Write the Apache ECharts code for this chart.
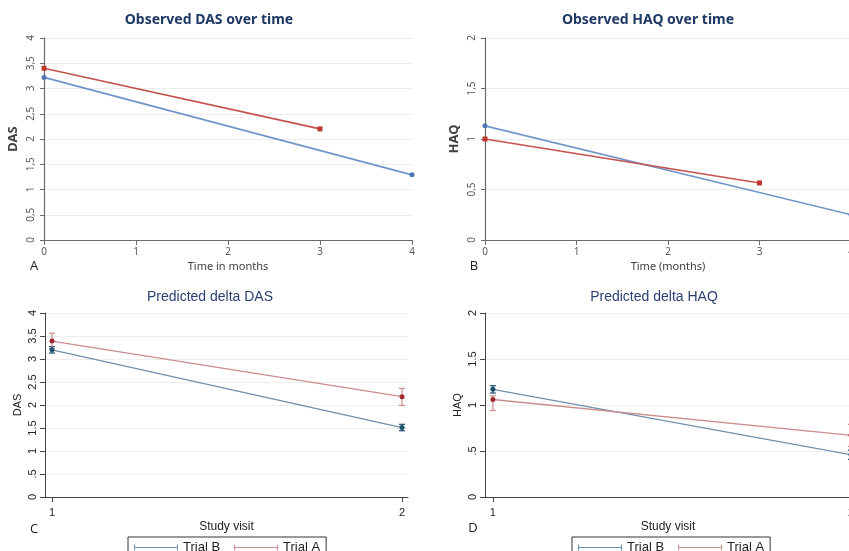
<!DOCTYPE html>
<html>
<head>
<meta charset="utf-8">
<script src="https://cdn.jsdelivr.net/npm/echarts@6/dist/echarts.min.js"></script>
<style>
  html, body { margin: 0; padding: 0; background: #fff; }
  #chart { width: 849px; height: 551px; }
</style>
</head>
<body>
<div id="chart"></div>
<script>
// A: observed DAS (months)
const dasMonthsB = [0, 4];
const dasObsB = [3.22, 1.29];
const dasMonthsA = [0, 3];
const dasObsA = [3.40, 2.20];

// B: observed HAQ (months)
const haqMonthsB = [0, 4];
const haqObsB = [1.13, 0.25];
const haqMonthsA = [0, 3];
const haqObsA = [1.00, 0.565];

// C: predicted delta DAS per study visit
const visits = [1, 2];
const dasPredB = [3.20, 1.51];
const dasLowB = [3.13, 1.44];
const dasHighB = [3.27, 1.58];
const dasPredA = [3.39, 2.18];
const dasLowA = [3.22, 1.99];
const dasHighA = [3.56, 2.36];

// D: predicted delta HAQ per study visit
const haqPredB = [1.17, 0.46];
const haqLowB = [1.13, 0.41];
const haqHighB = [1.21, 0.51];
const haqPredA = [1.06, 0.67];
const haqLowA = [0.94, 0.55];
const haqHighA = [1.10, 0.79];

const zip = (xs, ys) => xs.map((x, i) => [x, ys[i]]);
const zip3 = (xs, lo, hi) => xs.map((x, i) => [x, lo[i], hi[i]]);

const excelFont = 'Noto Sans';
const stataFont = 'Liberation Sans';
const blueXl = '#7195c8', redXl = '#c4524f';
const blueSt = '#6d90ad', redSt = '#c98d8e';
const blueStDark = '#1f4f6e', redStDark = '#9e2a30';

function errorBar(params, api) {
  const x = api.value(0);
  const lo = api.coord([x, api.value(1)]);
  const hi = api.coord([x, api.value(2)]);
  const w = 3;
  const style = { stroke: api.visual('color'), lineWidth: 1.2, fill: null };
  return {
    type: 'group',
    children: [
      { type: 'line', shape: { x1: lo[0], y1: lo[1], x2: hi[0], y2: hi[1] }, style: style },
      { type: 'line', shape: { x1: lo[0] - w, y1: lo[1], x2: lo[0] + w, y2: lo[1] }, style: style },
      { type: 'line', shape: { x1: hi[0] - w, y1: hi[1], x2: hi[0] + w, y2: hi[1] }, style: style }
    ]
  };
}

function xlYAxis(idx, max, name) {
  return {
    type: 'value', gridIndex: idx, min: 0, max: max, interval: 0.5,
    name: name, nameLocation: 'middle', nameGap: 24, nameRotate: 90,
    nameTextStyle: { fontFamily: excelFont, fontSize: 13, fontWeight: 'bold', color: '#404040' },
    axisLine: { show: true, lineStyle: { color: '#6b6b6b', width: 1.2 } },
    axisTick: { show: true, length: 4, lineStyle: { color: '#6b6b6b' } },
    axisLabel: {
      rotate: 90, margin: 8, fontFamily: excelFont, fontSize: 10, color: '#595959',
      formatter: v => String(v).replace('.', ',')
    },
    splitLine: { show: true, lineStyle: { color: '#ececec' } }
  };
}

function xlXAxis(idx, name) {
  return {
    type: 'value', gridIndex: idx, min: 0, max: 4, interval: 1,
    name: name, nameLocation: 'middle', nameGap: 21,
    nameTextStyle: { fontFamily: excelFont, fontSize: 11, color: '#404040' },
    axisLine: { lineStyle: { color: '#6b6b6b', width: 1.2 } },
    axisTick: { show: true, length: 5, lineStyle: { color: '#6b6b6b' } },
    axisLabel: { margin: 7, fontFamily: excelFont, fontSize: 10, color: '#595959' },
    splitLine: { show: false }
  };
}

function stYAxis(idx, max, name) {
  return {
    type: 'value', gridIndex: idx, min: 0, max: max, interval: 0.5,
    name: name, nameLocation: 'middle', nameGap: 22, nameRotate: 90,
    nameTextStyle: { fontFamily: stataFont, fontSize: 11, color: '#222' },
    axisLine: { show: true, lineStyle: { color: '#444', width: 1 } },
    axisTick: { show: true, length: 5, lineStyle: { color: '#444' } },
    axisLabel: {
      rotate: 90, margin: 7, fontFamily: stataFont, fontSize: 11, color: '#222',
      formatter: v => String(v).replace(/^0\./, '.')
    },
    splitLine: { show: true, lineStyle: { color: '#eeeeee' } }
  };
}

function stXAxis(idx, min, max) {
  return {
    type: 'value', gridIndex: idx, min: min, max: max, offset: 7,
    name: 'Study visit', nameLocation: 'middle', nameGap: 17,
    nameTextStyle: { fontFamily: stataFont, fontSize: 12, color: '#222' },
    axisLine: { lineStyle: { color: '#444', width: 1 } },
    axisTick: { show: true, length: 5, customValues: visits, lineStyle: { color: '#444' } },
    axisLabel: { margin: 3, customValues: visits, fontFamily: stataFont, fontSize: 11, color: '#222' },
    splitLine: { show: false }
  };
}

const capIcon = 'path://M0,0h1v6h-1z M0,2.5h44v1h-44z M43,0h1v6h-1z';

function stLegend(left) {
  return {
    left: left, top: 537, orient: 'horizontal',
    borderColor: '#333', borderWidth: 1, padding: [4, 6, 4, 6],
    itemWidth: 44, itemHeight: 6, itemGap: 14,
    textStyle: { fontFamily: stataFont, fontSize: 13, color: '#222' },
    selectedMode: false,
    data: [
      { name: 'Trial B', icon: capIcon, itemStyle: { color: blueSt } },
      { name: 'Trial A', icon: capIcon, itemStyle: { color: redSt } }
    ]
  };
}

function txt(x, y, text, font, fill) {
  return { type: 'text', x: x, y: y, style: { text: text, font: font, fill: fill, align: 'center', verticalAlign: 'middle' } };
}

const chart = echarts.init(document.getElementById('chart'));
chart.setOption({
  animation: false,
  backgroundColor: '#fff',
  grid: [
    { left: 44, right: 437, top: 38, bottom: 311, outerBoundsMode: 'none', containLabel: false },
    { left: 485, right: -2, top: 38, bottom: 311, outerBoundsMode: 'none', containLabel: false },
    { left: 45, right: 441, top: 313, bottom: 54, outerBoundsMode: 'none', containLabel: false },
    { left: 485, right: -2, top: 313, bottom: 54, outerBoundsMode: 'none', containLabel: false }
  ],
  xAxis: [
    xlXAxis(0, 'Time in months'),
    xlXAxis(1, 'Time (months)'),
    stXAxis(2, 0.98, 2.017),
    stXAxis(3, 0.978, 2)
  ],
  yAxis: [
    xlYAxis(0, 4, 'DAS'),
    xlYAxis(1, 2, 'HAQ'),
    stYAxis(2, 4, 'DAS'),
    stYAxis(3, 2, 'HAQ')
  ],
  legend: [stLegend(128), stLegend(572)],
  graphic: [
    txt(209, 20, 'Observed DAS over time', 'bold 14px "Noto Sans"', '#1f3864'),
    txt(648, 20, 'Observed HAQ over time', 'bold 14px "Noto Sans"', '#1f3864'),
    txt(210, 297, 'Predicted delta DAS', '14px "Liberation Sans"', '#2b3f72'),
    txt(654, 297, 'Predicted delta HAQ', '14px "Liberation Sans"', '#2b3f72'),
    txt(34, 266, 'A', '13px "Open Sans"', '#222'),
    txt(474, 266, 'B', '13px "Open Sans"', '#222'),
    txt(34, 529, 'C', '13px "Open Sans"', '#222'),
    txt(473, 528, 'D', '13px "Open Sans"', '#222')
  ],
  series: [
    { name: 'obsB_das', type: 'line', xAxisIndex: 0, yAxisIndex: 0, data: zip(dasMonthsB, dasObsB),
      symbol: 'circle', symbolSize: 5, lineStyle: { color: blueXl, width: 1.6 }, itemStyle: { color: '#4f77b5' } },
    { name: 'obsA_das', type: 'line', xAxisIndex: 0, yAxisIndex: 0, data: zip(dasMonthsA, dasObsA),
      symbol: 'rect', symbolSize: 5, lineStyle: { color: redXl, width: 1.6 }, itemStyle: { color: '#c0392f' } },
    { name: 'obsB_haq', type: 'line', xAxisIndex: 1, yAxisIndex: 1, data: zip(haqMonthsB, haqObsB),
      symbol: 'circle', symbolSize: 5, lineStyle: { color: blueXl, width: 1.6 }, itemStyle: { color: '#4f77b5' } },
    { name: 'obsA_haq', type: 'line', xAxisIndex: 1, yAxisIndex: 1, data: zip(haqMonthsA, haqObsA),
      symbol: 'rect', symbolSize: 5, lineStyle: { color: redXl, width: 1.6 }, itemStyle: { color: '#c0392f' } },

    { name: 'errB_das', type: 'custom', xAxisIndex: 2, yAxisIndex: 2, renderItem: errorBar,
      itemStyle: { color: blueStDark }, data: zip3(visits, dasLowB, dasHighB) },
    { name: 'errA_das', type: 'custom', xAxisIndex: 2, yAxisIndex: 2, renderItem: errorBar,
      itemStyle: { color: redSt }, data: zip3(visits, dasLowA, dasHighA) },
    { name: 'Trial B', type: 'line', xAxisIndex: 2, yAxisIndex: 2, data: zip(visits, dasPredB),
      symbol: 'circle', symbolSize: 5, lineStyle: { color: blueSt, width: 1.3 }, itemStyle: { color: blueStDark } },
    { name: 'Trial A', type: 'line', xAxisIndex: 2, yAxisIndex: 2, data: zip(visits, dasPredA),
      symbol: 'circle', symbolSize: 5, lineStyle: { color: redSt, width: 1.3 }, itemStyle: { color: redStDark } },

    { name: 'errB_haq', type: 'custom', xAxisIndex: 3, yAxisIndex: 3, renderItem: errorBar,
      itemStyle: { color: blueStDark }, data: zip3(visits, haqLowB, haqHighB) },
    { name: 'errA_haq', type: 'custom', xAxisIndex: 3, yAxisIndex: 3, renderItem: errorBar,
      itemStyle: { color: redSt }, data: zip3(visits, haqLowA, haqHighA) },
    { name: 'Trial B', type: 'line', xAxisIndex: 3, yAxisIndex: 3, data: zip(visits, haqPredB),
      symbol: 'circle', symbolSize: 5, lineStyle: { color: blueSt, width: 1.3 }, itemStyle: { color: blueStDark } },
    { name: 'Trial A', type: 'line', xAxisIndex: 3, yAxisIndex: 3, data: zip(visits, haqPredA),
      symbol: 'circle', symbolSize: 5, lineStyle: { color: redSt, width: 1.3 }, itemStyle: { color: redStDark } }
  ]
});
</script>
</body>
</html>
